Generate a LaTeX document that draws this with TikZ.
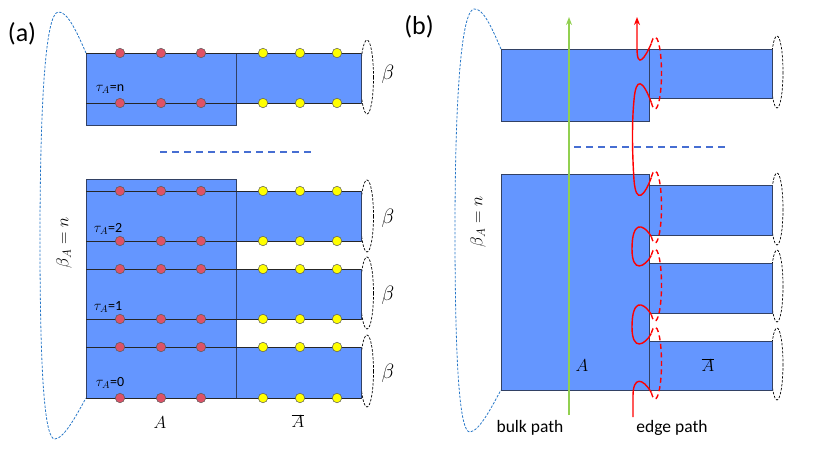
\documentclass[tikz,border=0pt]{standalone}
\usepackage{fontspec}
\setmainfont{Carlito}
\usetikzlibrary{arrows.meta}
\definecolor{blk}{RGB}{100,150,255}
\definecolor{edgec}{RGB}{50,65,100}
\definecolor{reddot}{RGB}{222,82,102}
\definecolor{yeldot}{RGB}{255,255,0}
\definecolor{loopblue}{RGB}{40,120,200}
\definecolor{sepblue}{RGB}{70,110,210}
\definecolor{bulkgreen}{RGB}{146,208,80}
\begin{document}
\begin{tikzpicture}[x=1pt,y=-1pt,
  blockbox/.style={fill=blk,draw=edgec,line width=0.8pt},
  ringline/.style={draw=black!85,line width=0.8pt},
  rdot/.style={circle,fill=reddot,draw=black!65,line width=0.5pt,minimum size=9.5pt,inner sep=0pt},
  ydot/.style={circle,fill=yeldot,draw=black!65,line width=0.5pt,minimum size=9.5pt,inner sep=0pt},
  betaloop/.style={draw=black,dash pattern=on 2.5pt off 1.5pt,line width=0.7pt},
  bigloop/.style={draw=loopblue,dash pattern=on 2.5pt off 1.5pt,line width=0.8pt},
  sepline/.style={draw=sepblue,dash pattern=on 7pt off 5pt,line width=1.3pt},
  edgesolid/.style={draw=red,line width=1.4pt},
  edgedash/.style={draw=red,line width=1.4pt,dash pattern=on 5pt off 3.5pt},
  tag/.style={font=\fontsize{26}{30}\selectfont},
  taulbl/.style={font=\fontsize{14}{16}\selectfont,inner sep=0pt},
  blbl/.style={font=\fontsize{20}{22}\selectfont,inner sep=0pt},
  mlbl/.style={font=\fontsize{17}{19}\selectfont,inner sep=0pt},
  albl/.style={font=\fontsize{18}{20}\selectfont,inner sep=0pt},
  plbl/.style={font=\fontsize{17.5}{19}\selectfont,inner sep=0pt}]
\useasboundingbox (0,0) rectangle (830,467);

% ================= panel (a) =================
\node[tag] (taga) at (22,34) {(a)};
% beta ellipses
\draw[betaloop] (367,77) ellipse[x radius=6.5, y radius=37];
\foreach \yc/\n in {216/1,293/2,371/3}
  \draw[betaloop] (367,\yc) ellipse[x radius=6.5, y radius=36];
% big replica loop
\draw[bigloop] (86,53) .. controls (76,30) and (67,11) .. (58,12)
  .. controls (45,14) and (40,110) .. (40,240)
  .. controls (40,380) and (45,440) .. (55,439)
  .. controls (65,438) and (78,412) .. (86,398);
% top block
\draw[blockbox] (86,53) rectangle (236,125);
\draw[blockbox] (236,53) rectangle (361,103);
\draw[ringline] (86,53) -- (361,53);
\draw[ringline] (86,103) -- (361,103);
% bottom block
\draw[blockbox] (86,179) rectangle (236,398);
\draw[blockbox] (236,191) rectangle (361,241);
\draw[blockbox] (236,269) rectangle (361,319);
\draw[blockbox] (236,347) rectangle (361,398);
\foreach \yy in {191,241,269,319,347,398}
  \draw[ringline] (86,\yy) -- (361,\yy);
% dots
\foreach \yy [count=\k] in {53,103,191,241,269,319,347,398}{
  \foreach \xx [count=\j] in {120,161,201}
    \node[rdot] (r\k-\j) at (\xx,\yy) {};
  \foreach \xx [count=\j] in {263,300,337}
    \node[ydot] (y\k-\j) at (\xx,\yy) {};
}
% separator
\draw[sepline] (160,152) -- (315,152);
% labels
\node[taulbl] (tn) at (110,89) {$\tau_A$=n};
\node[taulbl] (t2) at (108,229) {$\tau_A$=2};
\node[taulbl] (t1) at (108,307) {$\tau_A$=1};
\node[taulbl] (t0) at (110,383) {$\tau_A$=0};
\node[blbl] (ba) at (388,74) {$\beta$};
\node[blbl] (bb) at (388,218) {$\beta$};
\node[blbl] (bc) at (388,295) {$\beta$};
\node[blbl] (bd) at (388,373) {$\beta$};
\node[mlbl,rotate=90] (ban) at (64,243) {$\beta_A = n$};
\node[albl] (la) at (160,423) {$A$};
\node[albl] (lab) at (298,421) {$\overline{A}$};

% ================= panel (b) =================
\node[tag] (tagb) at (419,27) {(b)};
\draw[betaloop] (777,72) ellipse[x radius=6, y radius=36];
\foreach \yc in {209,286,364}
  \draw[betaloop] (777,\yc) ellipse[x radius=6, y radius=36];
\draw[bigloop] (501,49) .. controls (491,26) and (483,8) .. (474,9)
  .. controls (461,11) and (455,100) .. (455,230)
  .. controls (455,370) and (460,433) .. (470,432)
  .. controls (480,431) and (493,404) .. (501,390);
\draw[blockbox] (501,49) rectangle (649,121);
\draw[blockbox] (649,49) rectangle (772,98);
\draw[blockbox] (501,174) rectangle (649,390);
\draw[blockbox] (649,185) rectangle (772,235);
\draw[blockbox] (649,263) rectangle (772,313);
\draw[blockbox] (649,341) rectangle (772,390);
\draw[sepline] (574,147) -- (727,147);
% bulk path
\coordinate (bulkstart) at (569,415);
\coordinate (bulkend) at (569,17);
\draw[draw=bulkgreen,line width=1.4pt,-{Stealth[length=8pt,width=6pt]}] (bulkstart) -- (bulkend);
% edge path: dashed back halves
\foreach \yc in {73,207,285,363}
  \draw[edgedash] ([shift={(125:6.5 and 36)}]655,\yc) arc[start angle=125, end angle=-125, x radius=6.5, y radius=36];
% edge path: solid front parts
\draw[edgesolid] (633,417) -- (633,396) .. controls (633,376) and (643,378) .. (651.3,392.5);
\draw[edgesolid] (651.3,333.5) .. controls (645,345) and (632,352) .. (632,327) .. controls (632,300) and (642,300) .. (651.3,314.5);
\draw[edgesolid] (651.3,255.5) .. controls (645,267) and (632,274) .. (632,249) .. controls (632,222) and (642,222) .. (651.3,236.5);
\draw[edgesolid] (651.3,177.5) .. controls (645,195) and (636,206) .. (634,180) .. controls (632,150) and (632,120) .. (634,100) .. controls (636,76) and (643,80) .. (651.3,102.5);
\draw[edgesolid,-{Stealth[length=8pt,width=6pt]}] (651.3,43.5) .. controls (645,58) and (637,70) .. (637,48) -- (637,17);
% labels
\node[mlbl,rotate=90] (bbn) at (478,222) {$\beta_A = n$};
\node[albl] (lb) at (582,366) {$A$};
\node[albl] (lbb) at (708,365) {$\overline{A}$};
\node[plbl] (bulk) at (530,428) {bulk path};
\node[plbl] (edge) at (672,428) {edge path};
\end{tikzpicture}
\end{document}
